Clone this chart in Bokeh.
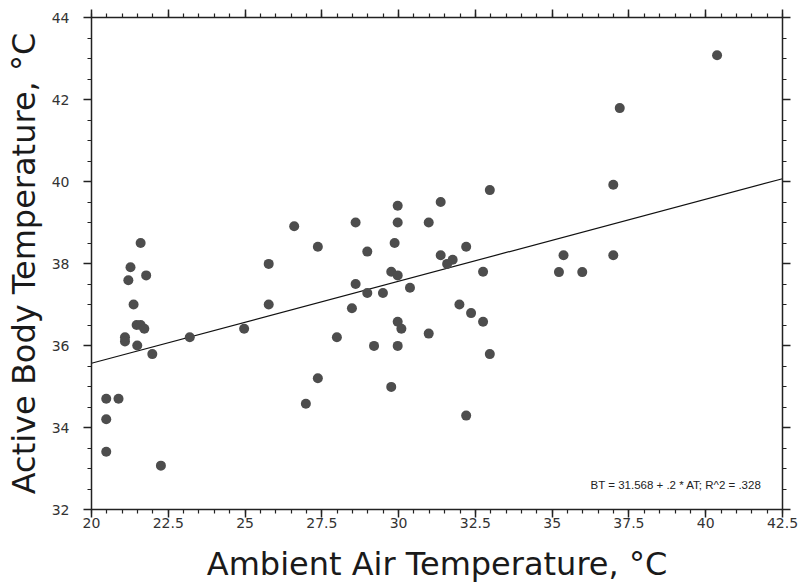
from bokeh.plotting import figure
from bokeh.models import (LinearAxis, Range1d, Label, SingleIntervalTicker,
                          ColumnDataSource, CustomLabelingPolicy)
from bokeh.embed import file_html
from bokeh.resources import INLINE

# Ambient air temperature (°C)
ambient = [20.48, 20.88, 20.48, 20.48, 22.26, 21.60, 21.27, 21.20, 21.78, 21.37,
           21.47, 21.60, 21.72, 21.09, 21.09, 21.49, 21.98, 23.20, 24.97, 25.77,
           25.77, 26.60, 27.37, 27.37, 26.98, 32.97, 31.37, 29.97, 28.60, 29.97,
           30.98, 28.98, 29.87, 32.20, 31.37, 31.76, 31.58, 29.76, 29.97, 32.75,
           28.60, 30.37, 28.98, 29.49, 28.48, 31.98, 32.36, 32.75, 29.97, 30.09,
           30.98, 27.99, 29.20, 29.97, 32.97, 29.76, 32.20, 40.37, 37.20, 36.99,
           35.37, 36.99, 35.22, 35.98]
# Active body temperature (°C)
body = [34.70, 34.70, 34.20, 33.41, 33.07, 38.50, 37.91, 37.59, 37.71, 37.00,
        36.50, 36.50, 36.41, 36.20, 36.10, 36.00, 35.79, 36.20, 36.41, 37.99,
        37.00, 38.91, 38.41, 35.20, 34.58, 39.79, 39.50, 39.41, 39.00, 39.00,
        39.00, 38.29, 38.50, 38.41, 38.20, 38.09, 37.99, 37.80, 37.71, 37.80,
        37.50, 37.41, 37.28, 37.28, 36.91, 37.00, 36.79, 36.58, 36.58, 36.41,
        36.29, 36.20, 35.99, 35.99, 35.79, 34.99, 34.29, 43.08, 41.79, 39.92,
        38.20, 38.20, 37.79, 37.79]

# Regression fit: BT = 31.568 + .2 * AT
intercept = 31.568
slope = 0.2
fit_x = [20.0, 42.5]
fit_y = [intercept + slope * v for v in fit_x]
fit_text = "BT = 31.568 + .2 * AT; R^2 = .328"

x_start, x_end = 20.0, 42.5
y_start, y_end = 32.0, 44.0

p = figure(width=801, height=586, output_backend="svg", toolbar_location=None,
           x_range=Range1d(x_start, x_end), y_range=Range1d(y_start, y_end),
           min_border_left=91, min_border_top=17, min_border_right=19, min_border_bottom=77)
p.outline_line_color = None
p.xgrid.visible = False
p.ygrid.visible = False
p.background_fill_color = "white"
p.border_fill_color = "white"

src = ColumnDataSource(dict(x=ambient, y=body))
p.line(fit_x, fit_y, line_color="#111111", line_width=1.2)
p.scatter("x", "y", source=src, size=10, fill_color="#4d4d4d", line_color="#4d4d4d", line_width=0)

AX_COLOR = "#222222"
TICK_FONT = "DejaVu Sans"
LABEL_FONT = "DejaVu Sans"
no_labels = CustomLabelingPolicy(code="return new Set()")

def style_axis(ax, ticker, show_labels):
    ax.ticker = ticker
    ax.axis_line_color = AX_COLOR
    ax.axis_line_width = 1.5
    ax.major_tick_line_color = AX_COLOR
    ax.major_tick_line_width = 1.5
    ax.minor_tick_line_color = AX_COLOR
    ax.minor_tick_line_width = 1.2
    ax.major_tick_in = 0
    ax.major_tick_out = 8
    ax.minor_tick_in = 0
    ax.minor_tick_out = 4
    if show_labels:
        ax.major_label_text_font = TICK_FONT
        ax.major_label_text_font_size = "14px"
        ax.major_label_text_color = "#333333"
    else:
        ax.major_label_policy = no_labels
        ax.major_label_text_font_size = "1px"
        ax.major_label_standoff = 0

xt = SingleIntervalTicker(interval=2.5, num_minor_ticks=5)
yt = SingleIntervalTicker(interval=2, num_minor_ticks=4)

xa = p.xaxis[0]
style_axis(xa, xt, True)
xa.major_label_standoff = 0
xa.axis_label = "Ambient Air Temperature, °C"
xa.axis_label_text_font = LABEL_FONT
xa.axis_label_text_font_size = "32px"
xa.axis_label_text_font_style = "normal"
xa.axis_label_text_color = "#1a1a1a"
xa.axis_label_standoff = 14

ya = p.yaxis[0]
style_axis(ya, yt, True)
ya.major_label_standoff = 14
ya.axis_label = "Active Body Temperature, °C"
ya.axis_label_text_font = LABEL_FONT
ya.axis_label_text_font_size = "32px"
ya.axis_label_text_font_style = "normal"
ya.axis_label_text_color = "#1a1a1a"
ya.axis_label_standoff = 6

top = LinearAxis()
style_axis(top, SingleIntervalTicker(interval=2.5, num_minor_ticks=5), False)
p.add_layout(top, "above")
right = LinearAxis()
style_axis(right, SingleIntervalTicker(interval=2, num_minor_ticks=4), False)
p.add_layout(right, "right")

p.add_layout(Label(x=36.25, y=32.6, text=fit_text, text_font="Liberation Sans",
                   text_font_size="11.5px", text_color="#222222", text_baseline="alphabetic"))

open("out.html", "w").write(file_html(p, INLINE))
